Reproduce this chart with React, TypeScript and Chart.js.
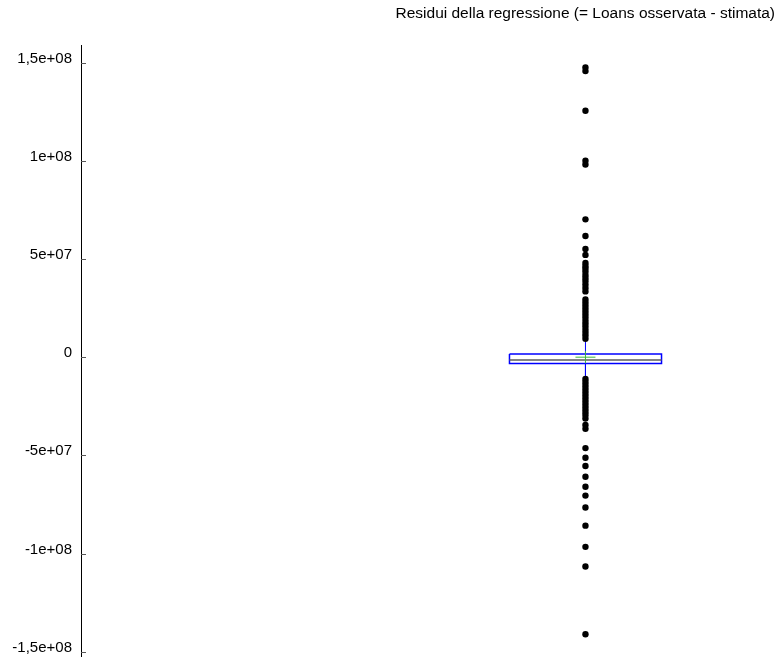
import { useEffect, useRef } from 'react';
import { Chart, registerables } from 'chart.js';

Chart.register(...registerables);

const titleText = 'Residui della regressione (= Loans osservata - stimata)';

// Five-number summary of the residuals
const quartiles = [-3.2e6, 1.63e6];
const median = -1.43e6;
const mean = 0;
const whiskerEnds = [-10.1e6, 7.8e6];

// Residuals beyond the whiskers
const upperOutliers = [
  147.6e6, 145.7e6, 125.5e6, 100.1e6, 98.1e6, 70.2e6, 61.7e6, 55.1e6, 52.1e6,
  48.0e6, 46.5e6, 45.2e6, 43.7e6, 41.9e6, 40.3e6, 38.8e6, 37.0e6, 35.2e6, 33.5e6,
  29.4e6, 27.9e6, 26.3e6, 24.8e6, 23.3e6, 21.7e6, 20.2e6, 18.6e6, 17.1e6, 15.6e6,
  14.0e6, 12.5e6, 11.0e6, 9.4e6,
];
const lowerOutliers = [
  -11.1e6, -12.6e6, -14.2e6, -15.7e6, -17.2e6, -18.7e6, -20.3e6, -21.8e6, -23.3e6,
  -24.9e6, -26.4e6, -27.9e6, -29.4e6, -31.2e6, -34.5e6, -36.5e6, -46.3e6, -51.2e6,
  -55.4e6, -60.9e6, -66.0e6, -70.5e6, -76.6e6, -85.8e6, -96.6e6, -106.6e6, -141.1e6,
];

const yTickValues = [-1.5e8, -1e8, -5e7, 0, 5e7, 1e8, 1.5e8];
const yTickLabels = ['-1,5e+08', '-1e+08', '-5e+07', '0', '5e+07', '1e+08', '1,5e+08'];

// Horizontal placement of the box on a 0..1 x scale
const BOX_LEFT = 0.6174;
const BOX_RIGHT = 0.8365;
const BOX_CENTER = 0.7269;
const MEAN_HALF_WIDTH = 0.0144;
const MEAN_HALF_HEIGHT = 3.1e6;

const FONT = "'Liberation Sans', Arial, Helvetica, sans-serif";

// Short tick marks drawn on the inner side of the y axis
const innerTicks = {
  id: 'innerTicks',
  afterDraw(chart: any) {
    const yScale = chart.scales.y;
    const ctx = chart.ctx;
    const left = chart.chartArea.left;
    ctx.save();
    ctx.strokeStyle = '#555555';
    ctx.lineWidth = 1;
    yScale.ticks.forEach((t: any) => {
      const py = Math.round(yScale.getPixelForValue(t.value)) + 0.5;
      ctx.beginPath();
      ctx.moveTo(left, py);
      ctx.lineTo(left + 5, py);
      ctx.stroke();
    });
    ctx.restore();
  },
};

export default function App() {
  const canvasRef = useRef<HTMLCanvasElement | null>(null);

  useEffect(() => {
    if (!canvasRef.current) return;
    const [q1, q3] = quartiles;
    const [wLow, wHigh] = whiskerEnds;
    const segment = (color: string, width: number, order: number, data: any[]) => ({
      type: 'scatter' as const,
      data,
      showLine: true,
      borderColor: color,
      borderWidth: width,
      pointRadius: 0,
      fill: false,
      order,
    });

    const chart = new Chart(canvasRef.current, {
      type: 'scatter',
      data: {
        datasets: [
          {
            type: 'scatter',
            data: [...upperOutliers, ...lowerOutliers].map((v) => ({ x: BOX_CENTER, y: v })),
            pointRadius: 3.2,
            pointBackgroundColor: '#000000',
            pointBorderWidth: 0,
            showLine: false,
            order: 0,
          },
          segment('#3cb43c', 1, 1, [
            { x: BOX_CENTER - MEAN_HALF_WIDTH, y: mean },
            { x: BOX_CENTER + MEAN_HALF_WIDTH, y: mean },
          ]),
          segment('#3cb43c', 1, 1, [
            { x: BOX_CENTER, y: mean - MEAN_HALF_HEIGHT },
            { x: BOX_CENTER, y: mean + MEAN_HALF_HEIGHT },
          ]),
          segment('#5a5a5a', 1.5, 2, [
            { x: BOX_LEFT, y: median },
            { x: BOX_RIGHT, y: median },
          ]),
          segment('#0000ff', 1.5, 2, [
            { x: BOX_LEFT, y: q3 },
            { x: BOX_RIGHT, y: q3 },
            { x: BOX_RIGHT, y: q1 },
            { x: BOX_LEFT, y: q1 },
            { x: BOX_LEFT, y: q3 },
          ]),
          segment('#0000ff', 1, 3, [
            { x: BOX_CENTER, y: q3 },
            { x: BOX_CENTER, y: wHigh },
          ]),
          segment('#0000ff', 1, 3, [
            { x: BOX_CENTER, y: q1 },
            { x: BOX_CENTER, y: wLow },
          ]),
        ],
      },
      options: {
        animation: false,
        responsive: false,
        devicePixelRatio: 1,
        layout: { padding: { top: 0, right: 4, bottom: 6, left: 0 } },
        plugins: {
          legend: { display: false },
          tooltip: { enabled: false },
          title: {
            display: true,
            text: titleText,
            align: 'end',
            color: '#000000',
            font: { family: FONT, size: 15.5, weight: 'normal' },
            padding: { top: 4.7, bottom: 21.7 },
          },
        },
        scales: {
          x: { type: 'linear', display: false, min: 0, max: 1 },
          y: {
            type: 'linear',
            min: -152.2e6,
            max: 159e6,
            afterBuildTicks: (scale: any) => {
              scale.ticks = yTickValues.map((v) => ({ value: v }));
            },
            afterFit: (scale: any) => {
              scale.width = 81;
              scale.paddingTop = 0;
              scale.paddingBottom = 0;
            },
            grid: { display: false, drawTicks: false },
            border: { display: true, color: '#000000', width: 1 },
            ticks: {
              padding: 9,
              labelOffset: -4,
              color: '#000000',
              font: { family: FONT, size: 15 },
              callback: (_v: any, i: number) => yTickLabels[i],
            },
          },
        },
      },
      plugins: [innerTicks],
    });

    return () => chart.destroy();
  }, []);

  return (
    <div style={{ position: 'fixed', left: 0, top: 0, width: 779, height: 662, background: '#ffffff' }}>
      <canvas ref={canvasRef} width={779} height={662} style={{ display: 'block' }} />
    </div>
  );
}
